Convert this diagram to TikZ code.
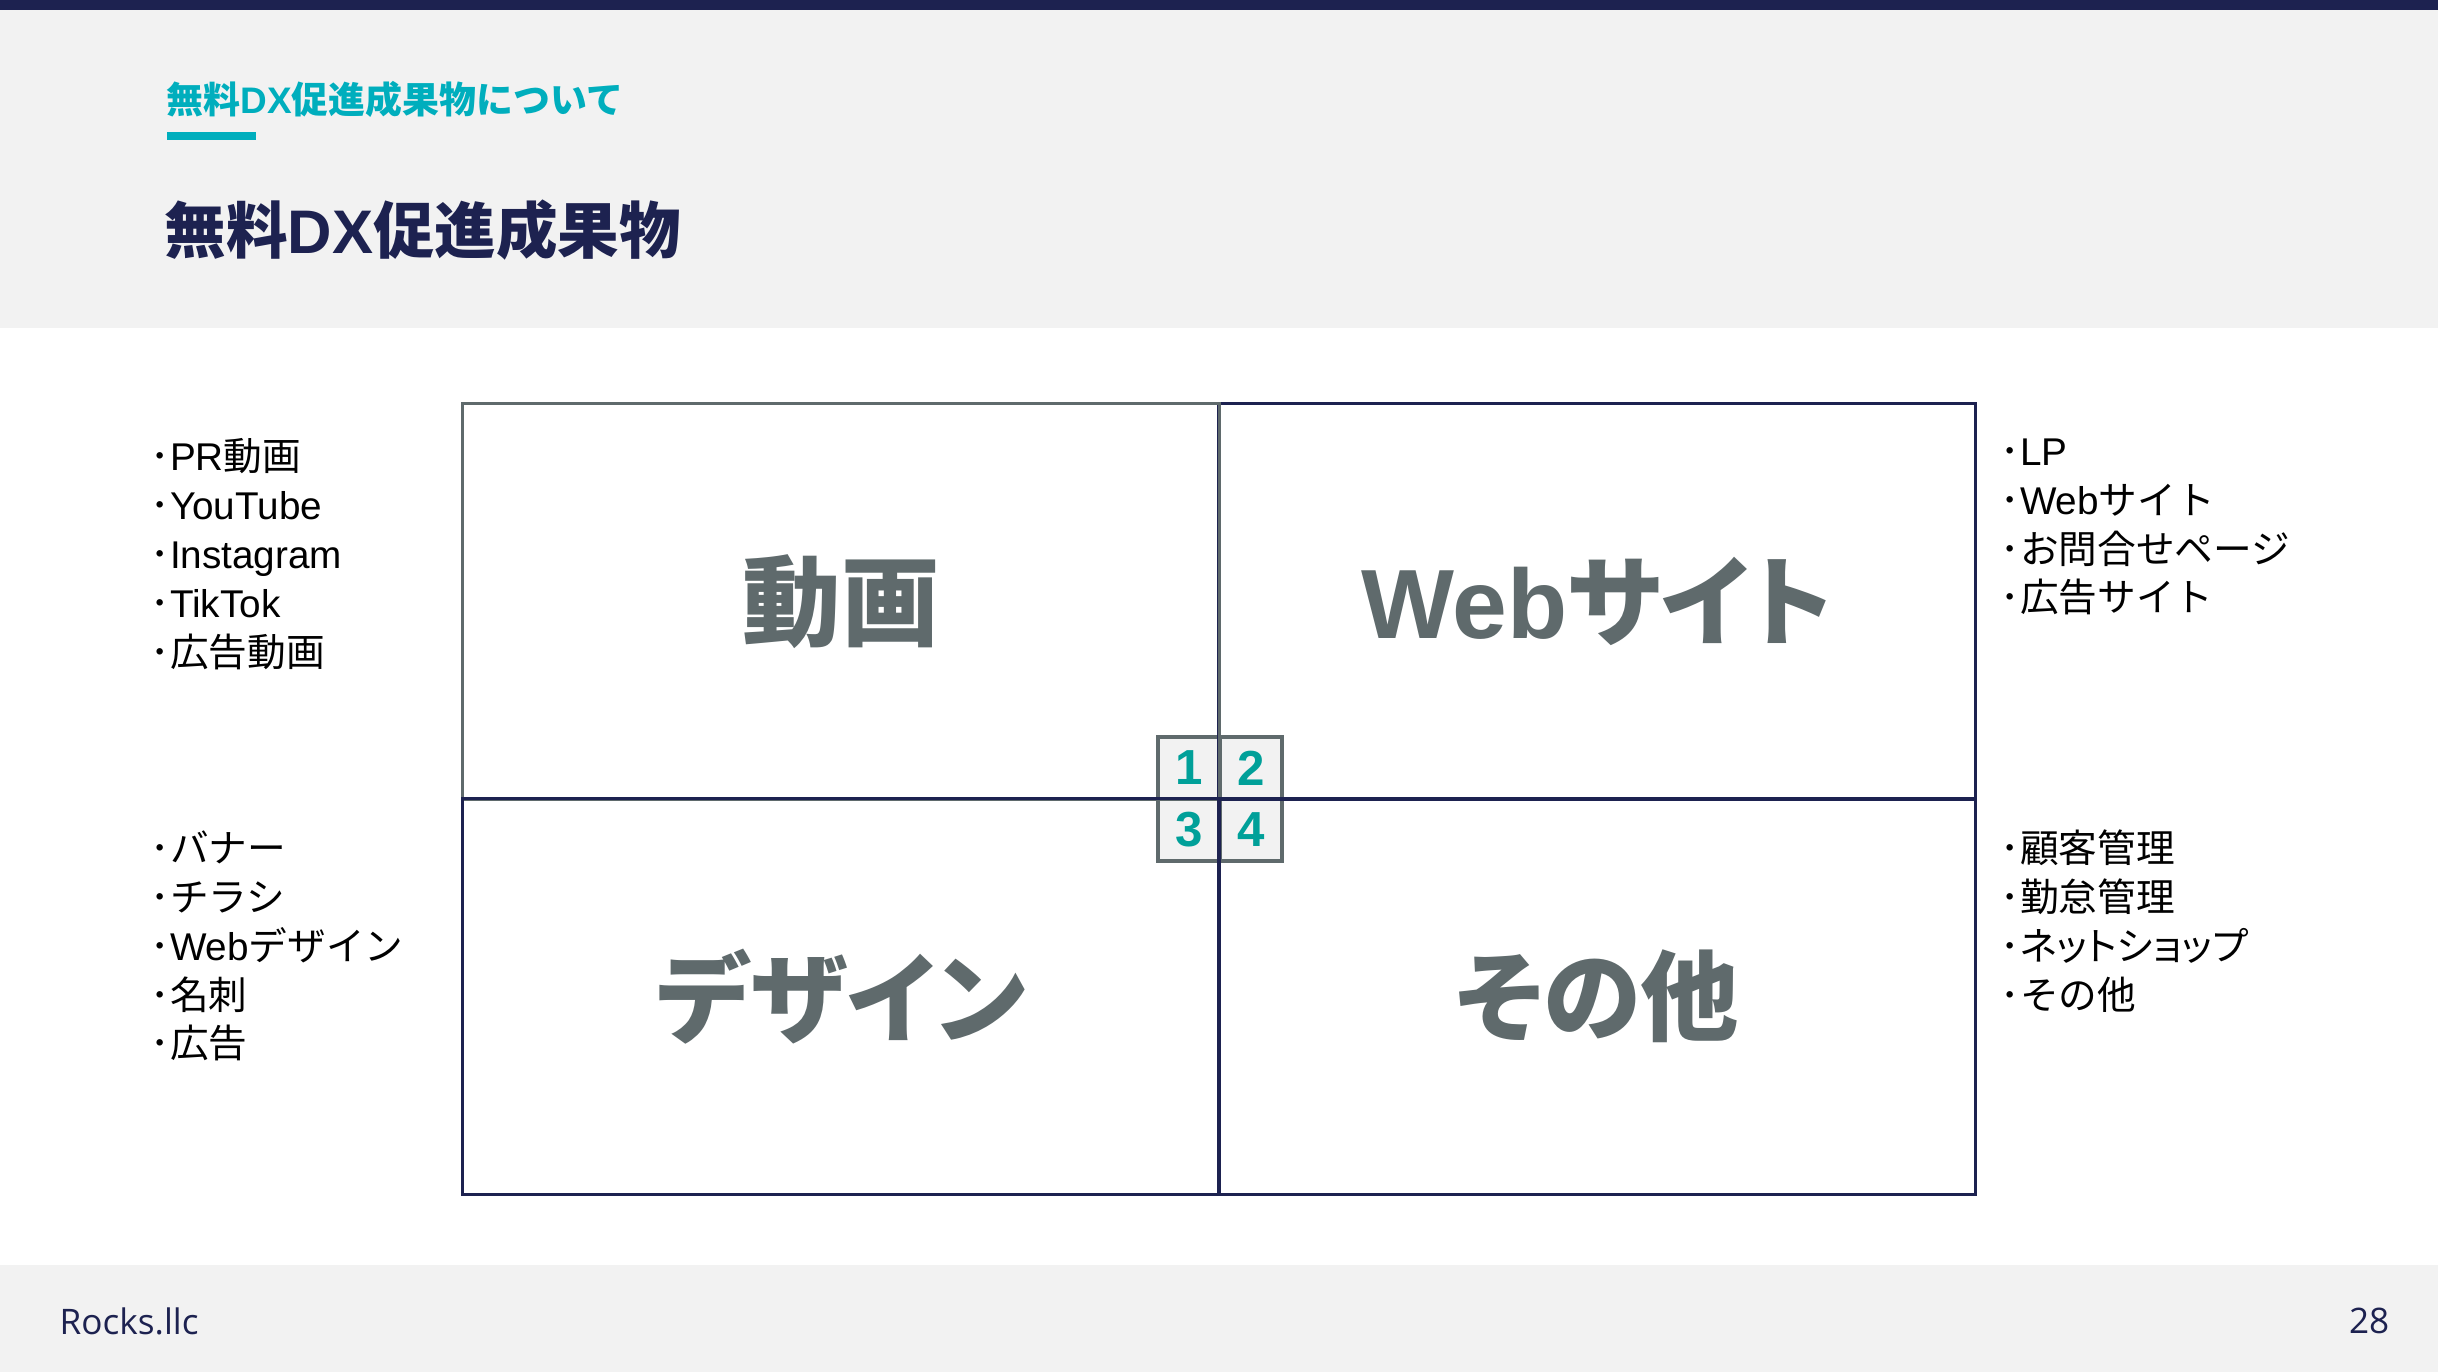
\documentclass[tikz,border=0pt]{standalone}
\usepackage{fontspec}
\usepackage{tikz}
\setmainfont{Noto Sans CJK JP}
\newfontfamily\en{Liberation Sans}
\newfontfamily\foot{Open Sans}
\newfontfamily\jpprop{Noto Sans CJK JP}[RawFeature=+palt]
\definecolor{navy}{HTML}{1D2250}
\definecolor{bggrey}{HTML}{F2F2F2}
\definecolor{slate}{HTML}{5F6A6C}
\definecolor{cyanteal}{HTML}{00AEBD}
\definecolor{numteal}{HTML}{00A099}
\tikzset{quad/.style={rectangle, line width=0.9pt, minimum width=7.56cm, minimum height=3.95cm,
    inner sep=0pt, outer sep=0pt, text=slate, font=\jpprop\fontsize{28}{30}\selectfont\bfseries},
  cell/.style={rectangle, draw=slate, fill=bggrey, line width=0.9pt, minimum size=0.62cm,
    inner sep=0pt, outer sep=0pt, text=numteal, font=\en\fontsize{14}{16}\selectfont\bfseries},
  listtext/.style={anchor=west, align=left, inner sep=0pt, text=black,
    font=\fontsize{11}{13.9}\selectfont}}

\begin{document}
\begin{tikzpicture}[x=0.01cm, y=-0.01cm]
        \useasboundingbox (0,0) rectangle (2438,1372);
        % page background
        \fill[white] (0,0) rectangle (2438,1372);
        \fill[bggrey] (0,0) rectangle (2438,328);
        \fill[navy] (0,0) rectangle (2438,10);
        \fill[bggrey] (0,1265) rectangle (2438,1372);
        % heading
        \node[anchor=west, inner sep=0pt, text=cyanteal, font=\fontsize{10.5}{12}\selectfont\bfseries] (subtitle) at (166,99.5) {無料{\en DX}促進成果物について};
        \fill[cyanteal] (167,132) rectangle (256,140);
        \node[anchor=west, inner sep=0pt, text=navy, font=\fontsize{17.5}{20}\selectfont\bfseries] (title) at (164,230) {無料{\en DX}促進成果物};
        % number cells
        \node[cell] (n1) at (1189,768) {1};
        \node[cell] (n2) at (1251,768) {2};
        \node[cell] (n3) at (1189,830) {3};
        \node[cell] (n4) at (1251,830) {4};
        % quadrants
        \node[quad, draw=navy] (web) at (1597,601.5) {{\en Web}サイト};
        \node[quad, draw=slate] (douga) at (841,601.5) {動画};
        \node[quad, draw=navy] (design) at (841,996.5) {デザイン};
        \node[quad, draw=navy] (other) at (1597,996.5) {その他};
        % lists
        \node[listtext] (douga-list) at (150,554) {･{\en PR}動画\\･{\en YouTube}\\･{\en Instagram}\\･{\en TikTok}\\･広告動画};
        \node[listtext] (design-list) at (150,946) {･バナー\\･チラシ\\･{\en Web}デザイン\\･名刺\\･広告};
        \node[listtext] (web-list) at (2000,527) {･{\en LP}\\･{\en Web}サイト\\･お問合せページ\\･広告サイト};
        \node[listtext] (other-list) at (2000,921) {･顧客管理\\･勤怠管理\\･{\jpprop ネットショップ}\\･その他};
        % footer
        \node[anchor=west, inner sep=0pt, text=navy, font=\foot\fontsize{10}{12}\selectfont] (company) at (59,1321) {Rocks.llc};
        \node[anchor=east, inner sep=0pt, text=navy, font=\foot\fontsize{10}{12}\selectfont] (page) at (2390,1321) {28};
\end{tikzpicture}
\end{document}
